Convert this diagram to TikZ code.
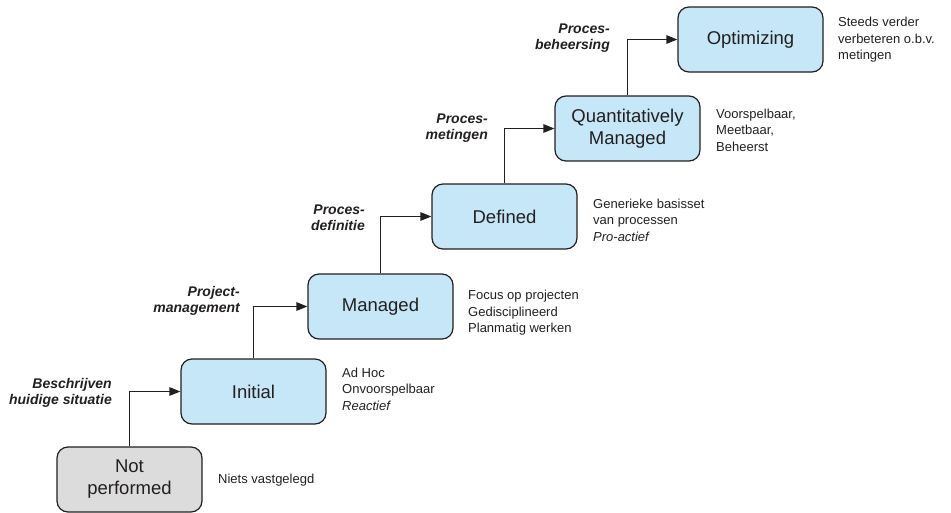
\documentclass[tikz,border=0pt]{standalone}
\usepackage{fontspec}
\setmainfont{Liberation Sans}
\usetikzlibrary{arrows.meta}
\definecolor{boxblue}{HTML}{C6E7F7}
\definecolor{boxgray}{HTML}{DCDCDD}
\definecolor{edge}{HTML}{231F20}
\tikzset{
  level/.style={draw=edge, line width=1.2pt, rounded corners=11pt, fill=boxblue,
    minimum width=145pt, minimum height=65pt, inner sep=0pt, align=center,
    font=\fontsize{18.5}{22}\selectfont, text=edge},
  levelgray/.style={level, fill=boxgray},
  steplabel/.style={anchor=east, align=right, inner sep=0pt,
    font=\fontsize{14}{16.5}\selectfont\bfseries\itshape, text=edge},
  desc/.style={anchor=west, align=left, inner sep=0pt,
    font=\fontsize{13}{16.5}\selectfont, text=edge},
  conn/.style={draw=edge, line width=1.2pt, -{Triangle[length=11pt,width=8.5pt]}}
}
\begin{document}
\begin{tikzpicture}[x=1pt,y=1pt]
\useasboundingbox (0,0) rectangle (951,-512);
\node[levelgray] (np)  at (129.5,-479.5) {Not\\performed};
\node[level]     (ini) at (253.5,-391.5) {Initial};
\node[level]     (man) at (380.5,-306.5) {Managed};
\node[level]     (def) at (504.5,-216.5) {Defined};
\node[level]     (qm)  at (627.5,-128.5) {Quantitatively\\Managed};
\node[level]     (opt) at (750.5,-39.5) {Optimizing};

\draw[conn] (np.north) |- (ini.west);
\draw[conn] (ini.north) |- (man.west);
\draw[conn] (man.north) |- (def.west);
\draw[conn] (def.north) |- (qm.west);
\draw[conn] (qm.north) |- (opt.west);

\node[steplabel] (l1) at (112,-393) {Beschrijven\\huidige situatie};
\node[steplabel] (l2) at (240,-301) {Project-\\management};
\node[steplabel] (l3) at (365,-218) {Proces-\\definitie};
\node[steplabel] (l4) at (488,-128) {Proces-\\metingen};
\node[steplabel] (l5) at (610,-38) {Proces-\\beheersing};

\node[desc] (d0) at (218,-480) {Niets vastgelegd};
\node[desc] (d1) at (342,-389) {Ad Hoc\\Onvoorspelbaar\\\textit{Reactief}};
\node[desc] (d2) at (468,-313) {Focus op projecten\\Gedisciplineerd\\Planmatig werken};
\node[desc] (d3) at (593,-220) {Generieke basisset\\van processen\\\textit{Pro-actief}};
\node[desc] (d4) at (716,-130) {Voorspelbaar,\\Meetbaar,\\Beheerst};
\node[desc] (d5) at (838,-40) {Steeds verder\\verbeteren o.b.v.\\metingen};
\end{tikzpicture}
\end{document}
